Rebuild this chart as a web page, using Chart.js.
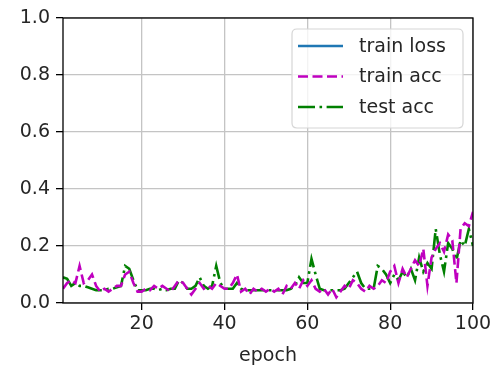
<!DOCTYPE html>
<html>
<head>
<meta charset="utf-8">
<script src="https://cdn.jsdelivr.net/npm/chart.js@4"></script>
<style>
html,body{margin:0;padding:0;background:#fff;}
#wrap{width:500px;height:369px;position:relative;}
</style>
</head>
<body>
<div id="wrap"><canvas id="c"></canvas></div>
<script>
const epochs = [1,2,3,4,5,6,7,8,9,10,11,12,13,14,15,16,17,18,19,20,21,22,23,24,25,26,27,28,29,30,31,32,33,34,35,36,37,38,39,40,41,42,43,44,45,46,47,48,49,50,51,52,53,54,55,56,57,58,59,60,61,62,63,64,65,66,67,68,69,70,71,72,73,74,75,76,77,78,79,80,81,82,83,84,85,86,87,88,89,90,91,92,93,94,95,96,97,98,99,100];
const trainLoss = [2.31,2.30,2.30,2.31,2.30,2.30,2.30,2.31,2.30,2.30,2.30,2.30,2.31,2.30,2.30,2.30,2.30,2.31,2.30,2.30,2.30,2.30,2.31,2.30,2.30,2.30,2.30,2.30,2.31,2.30,2.30,2.30,2.30,2.30,2.30,2.31,2.30,2.30,2.30,2.30,2.30,2.30,2.30,2.31,2.30,2.30,2.30,2.30,2.30,2.30,2.30,2.30,2.31,2.30,2.30,2.30,2.30,2.30,2.30,2.30,2.30,2.30,2.30,2.31,2.30,2.30,2.30,2.30,2.30,2.30,2.30,2.30,2.30,2.30,2.30,2.29,2.30,2.30,2.29,2.29,2.29,2.29,2.29,2.28,2.28,2.28,2.28,2.27,2.27,2.27,2.26,2.26,2.26,2.25,2.25,2.25,2.24,2.24,2.23,2.23];
const trainAcc = [0.05,0.07,0.08,0.07,0.13,0.07,0.08,0.10,0.06,0.04,0.05,0.04,0.05,0.06,0.06,0.10,0.11,0.07,0.04,0.04,0.05,0.045,0.06,0.05,0.06,0.05,0.04,0.06,0.08,0.07,0.05,0.03,0.05,0.07,0.05,0.06,0.05,0.07,0.06,0.05,0.05,0.07,0.10,0.04,0.05,0.03,0.05,0.04,0.05,0.04,0.05,0.04,0.05,0.03,0.06,0.05,0.07,0.05,0.08,0.06,0.08,0.05,0.04,0.05,0.03,0.05,0.02,0.04,0.06,0.05,0.08,0.07,0.05,0.04,0.06,0.05,0.06,0.08,0.07,0.11,0.13,0.07,0.12,0.09,0.12,0.15,0.13,0.19,0.06,0.16,0.19,0.21,0.18,0.24,0.22,0.07,0.26,0.28,0.27,0.32];
const testAcc = [0.09,0.085,0.06,0.07,0.06,0.06,0.055,0.05,0.045,0.045,0.045,0.05,0.05,0.055,0.06,0.13,0.12,0.08,0.045,0.045,0.045,0.05,0.05,0.045,0.05,0.045,0.05,0.05,0.08,0.07,0.05,0.05,0.06,0.09,0.06,0.05,0.06,0.13,0.07,0.05,0.05,0.05,0.07,0.05,0.045,0.045,0.045,0.045,0.045,0.045,0.045,0.045,0.045,0.045,0.045,0.05,0.06,0.09,0.07,0.07,0.155,0.10,0.05,0.045,0.045,0.045,0.045,0.045,0.05,0.07,0.09,0.11,0.07,0.05,0.05,0.05,0.13,0.12,0.10,0.07,0.10,0.08,0.11,0.09,0.12,0.08,0.16,0.11,0.14,0.12,0.26,0.17,0.11,0.21,0.19,0.15,0.22,0.20,0.26,0.20];
const xTicks = [20,40,60,80,100];
const yTicks = [0,0.2,0.4,0.6,0.8,1.0];
const seriesNames = ['train loss','train acc','test acc'];
const xTitle = 'epoch';

const FONT = 'DejaVu Sans';
const FS = 19;
const TXT = '#262626';

function pts(ys){ return epochs.map((x,i)=>({x:x,y:ys[i]})); }

const frameLegend = {
  id:'frameLegend',
  afterDatasetsDraw(chart){
    const ctx = chart.ctx, a = chart.chartArea;
    ctx.save();
    ctx.strokeStyle = '#000';
    ctx.lineWidth = 1.3;
    ctx.strokeRect(a.left, a.top, a.right - a.left, a.bottom - a.top);
    // legend
    const bx = 292, by = 29, bw = 171, bh = 99, r = 5;
    ctx.beginPath();
    ctx.moveTo(bx+r,by); ctx.lineTo(bx+bw-r,by); ctx.quadraticCurveTo(bx+bw,by,bx+bw,by+r);
    ctx.lineTo(bx+bw,by+bh-r); ctx.quadraticCurveTo(bx+bw,by+bh,bx+bw-r,by+bh);
    ctx.lineTo(bx+r,by+bh); ctx.quadraticCurveTo(bx,by+bh,bx,by+bh-r);
    ctx.lineTo(bx,by+r); ctx.quadraticCurveTo(bx,by,bx+r,by);
    ctx.closePath();
    ctx.fillStyle = 'rgba(255,255,255,0.8)';
    ctx.fill();
    ctx.strokeStyle = '#d6d6d6';
    ctx.lineWidth = 1.2;
    ctx.stroke();
    const ds = chart.data.datasets;
    ctx.font = FS + 'px "' + FONT + '"';
    ctx.textBaseline = 'middle';
    ctx.textAlign = 'left';
    for (let i = 0; i < ds.length; i++) {
      const y = 46 + i * 30.5;
      ctx.beginPath();
      ctx.setLineDash(ds[i].borderDash || []);
      ctx.strokeStyle = ds[i].borderColor;
      ctx.lineWidth = ds[i].borderWidth;
      ctx.moveTo(298, y); ctx.lineTo(343, y);
      ctx.stroke();
      ctx.setLineDash([]);
      ctx.fillStyle = TXT;
      ctx.fillText(ds[i].label, 359, y + 1);
    }
    ctx.restore();
  }
};

new Chart(document.getElementById('c'), {
  type: 'line',
  data: {
    datasets: [
      {label: seriesNames[0], data: pts(trainLoss), borderColor: '#1f77b4', borderWidth: 2.6, pointRadius: 0, fill: false, tension: 0},
      {label: seriesNames[1], data: pts(trainAcc), borderColor: '#bf00bf', borderWidth: 2.6, borderDash: [10, 4.5], pointRadius: 0, fill: false, tension: 0},
      {label: seriesNames[2], data: pts(testAcc), borderColor: '#008000', borderWidth: 2.6, borderDash: [17, 4.5, 2.6, 4.5], pointRadius: 0, fill: false, tension: 0}
    ]
  },
  options: {
    responsive: true,
    maintainAspectRatio: false,
    animation: false,
    layout: {padding: {top: 18, right: 27, left: 0, bottom: 0}},
    plugins: {legend: {display: false}, tooltip: {enabled: false}},
    scales: {
      x: {
        type: 'linear', min: 1, max: 100,
        afterBuildTicks: s => { s.ticks = xTicks.map(v => ({value: v})); },
        afterFit: s => { s.height = 66; },
        grid: {color: '#c4c4c4', lineWidth: 1.3, drawTicks: true, tickLength: 7, tickColor: '#000', tickWidth: 1.3},
        border: {display: false},
        ticks: {color: TXT, font: {family: FONT, size: FS}, padding: 3, maxRotation: 0, callback: v => String(v)},
        title: {display: true, text: xTitle, color: TXT, font: {family: FONT, size: FS}, padding: {top: 0, bottom: 2}}
      },
      y: {
        min: 0, max: 1,
        afterBuildTicks: s => { s.ticks = yTicks.map(v => ({value: v})); },
        afterFit: s => { s.width = 63; },
        grid: {color: '#c4c4c4', lineWidth: 1.3, drawTicks: true, tickLength: 7, tickColor: '#000', tickWidth: 1.3},
        border: {display: false},
        ticks: {color: TXT, font: {family: FONT, size: FS}, padding: 6, callback: v => v.toFixed(1)}
      }
    }
  },
  plugins: [frameLegend]
});
</script>
</body>
</html>
